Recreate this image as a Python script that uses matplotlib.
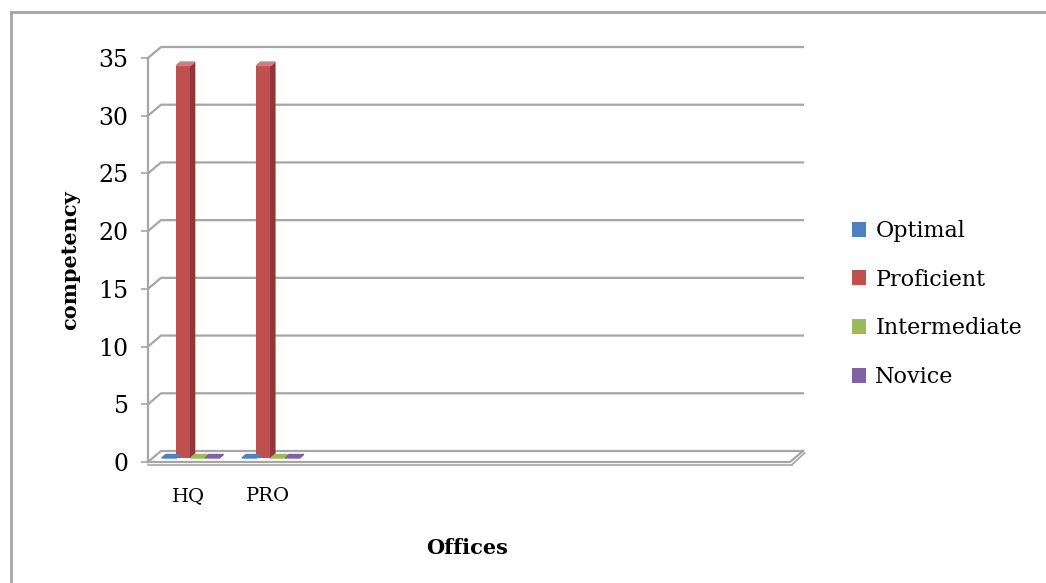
import matplotlib.pyplot as plt
from matplotlib.patches import Patch, Polygon
from matplotlib.lines import Line2D

# данные
offices = ['HQ', 'PRO', '', '', '', '', '', '']
series = ['Optimal', 'Proficient', 'Intermediate', 'Novice']
values = {
    'Optimal':      [0, 0, 0, 0, 0, 0, 0, 0],
    'Proficient':   [34, 34, 0, 0, 0, 0, 0, 0],
    'Intermediate': [0, 0, 0, 0, 0, 0, 0, 0],
    'Novice':       [0, 0, 0, 0, 0, 0, 0, 0],
}
n_shown = 2  # only HQ and PRO have bars
y_ticks = [0, 5, 10, 15, 20, 25, 30, 35]

colors = {
    'Optimal': ('#4F81BD', '#365F91', '#7A9FD0'),
    'Proficient': ('#C0504D', '#8C3836', '#D47C7A'),
    'Intermediate': ('#9BBB59', '#71893F', '#B6CF84'),
    'Novice': ('#8064A2', '#5C4876', '#A28DBD'),
}
grid_c = '#A6A6A6'
font = 'DejaVu Serif'

W, H = 1046, 583
fig = plt.figure(figsize=(W / 100, H / 100), dpi=100)
ax_l, ax_b, ax_w, ax_h = 148, 121, 642, 404
ax = fig.add_axes([ax_l / W, ax_b / H, ax_w / W, ax_h / H])
ax.set_xlim(0, len(offices))
ax.set_ylim(0, 35)
for s in ax.spines.values():
    s.set_visible(False)

# пиксели -> единицы данных
px_x = len(offices) / ax_w
px_y = 35 / ax_h
wall_dx, wall_dy = 13 * px_x, 11 * px_y

# задняя стенка и сетка
for yv in y_ticks:
    ax.plot([0, wall_dx, len(offices) + wall_dx], [yv, yv + wall_dy, yv + wall_dy],
            color=grid_c, lw=1.6, clip_on=False, zorder=1)
ax.plot([0, 0], [0, 35], color=grid_c, lw=1.6, clip_on=False, zorder=1)
# пол
n = len(offices)
ax.plot([0, n, n + wall_dx], [0, 0, wall_dy], color=grid_c, lw=1.6, clip_on=False, zorder=1)
ax.plot([0, n + 0.02], [-3 * px_y, -3 * px_y], color=grid_c, lw=1.2, clip_on=False, zorder=1)
ax.plot([n + 0.02, n + wall_dx + 0.02], [-3 * px_y, wall_dy - 2 * px_y],
        color=grid_c, lw=1.2, clip_on=False, zorder=1)

# столбцы
bar_w = 0.18
front_dx, front_dy = 2.5 * px_x, 4 * px_y
depth_dx, depth_dy = 4 * px_x, 3.5 * px_y
for i in range(n_shown):
    for k, name in enumerate(series):
        v = values[name][i]
        face, dark, light = colors[name]
        xl = i + 0.5 - 2 * bar_w + k * bar_w + front_dx
        xr = xl + bar_w
        b = front_dy
        if v > 0:
            ax.bar(xl, v, width=bar_w, bottom=b, align='edge', color=face,
                   edgecolor='none', zorder=3, clip_on=False)
            ax.add_patch(Polygon([(xr, b), (xr, b + v), (xr + depth_dx, b + v + depth_dy),
                                  (xr + depth_dx, b + depth_dy)],
                                 closed=True, color=dark, zorder=3, clip_on=False))
        ax.add_patch(Polygon([(xl, b + v), (xr, b + v), (xr + depth_dx, b + v + depth_dy),
                              (xl + depth_dx, b + v + depth_dy)],
                             closed=True, color=light if v > 0 else face, zorder=4,
                             clip_on=False))

ax.set_yticks(y_ticks)
ax.set_yticklabels([str(t) for t in y_ticks], fontfamily=font, fontsize=17)
ax.tick_params(axis='y', length=5, width=1.2, color=grid_c, pad=9)
ax.set_xticks([i + 0.5 for i in range(n)])
ax.set_xticklabels(offices, fontfamily=font, fontsize=14)
ax.tick_params(axis='x', length=0, pad=18)

ax.set_ylabel('competency', fontfamily=font, fontsize=15, fontweight='bold')
ax.yaxis.set_label_coords(-0.105, 0.5)
ax.set_xlabel('Offices', fontfamily=font, fontsize=15, fontweight='bold')
ax.xaxis.set_label_coords(0.497, -0.188)

handles = [Patch(facecolor=colors[s][0], edgecolor='none') for s in series]
fig.legend(handles, series, loc='upper left', bbox_to_anchor=(852 / W, 1 - 220 / H),
           frameon=False, prop={'family': font, 'size': 16}, handlelength=0.65,
           handleheight=0.65, handletextpad=0.4, labelspacing=1.2, borderpad=0,
           borderaxespad=0)

# рамка
fig.add_artist(Line2D([10.5 / W, 10.5 / W], [0, 1 - 12 / H], color='#A6A6A6', lw=2))
fig.add_artist(Line2D([10.5 / W, 1], [1 - 12 / H, 1 - 12 / H], color='#A6A6A6', lw=2))

fig.savefig('out.png', dpi=100)
